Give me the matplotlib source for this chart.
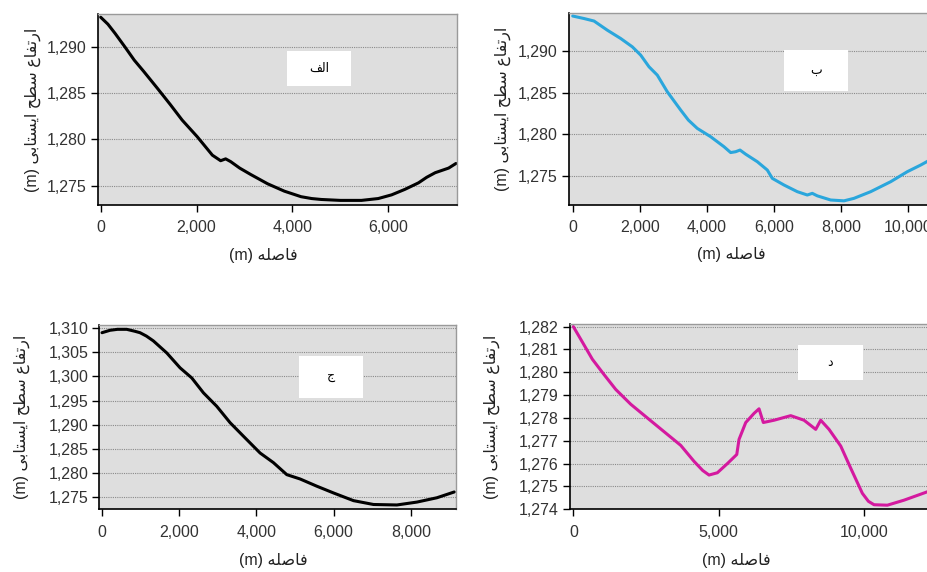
import numpy as np
import matplotlib
matplotlib.use("Agg")
import matplotlib.pyplot as plt
from matplotlib.ticker import FuncFormatter

# ---- data (distance in m, water table elevation in m)
x_alef = [0, 150, 300, 510, 700, 894, 1175, 1450, 1700, 2014, 2330, 2502, 2607,
          2712, 2900, 3132, 3482, 3831, 4180, 4400, 4600, 5000, 5440, 5790, 6069,
          6348, 6629, 6800, 6978, 7258, 7411]
y_alef = [1293.25, 1292.5, 1291.5, 1290.0, 1288.6, 1287.4, 1285.6, 1283.8, 1282.1,
          1280.3, 1278.3, 1277.7, 1277.9, 1277.6, 1276.9, 1276.2, 1275.2, 1274.4,
          1273.8, 1273.6, 1273.5, 1273.4, 1273.4, 1273.6, 1274.0, 1274.6, 1275.3,
          1275.9, 1276.4, 1276.9, 1277.4]

x_be = [0, 337, 635, 1032, 1431, 1778, 2028, 2276, 2523, 2821, 3221, 3450, 3716,
        4115, 4512, 4711, 4860, 4990, 5160, 5506, 5804, 5953, 6302, 6699, 6997,
        7146, 7295, 7694, 8091, 8389, 8887, 9484, 9979, 10379, 10650]
y_be = [1294.2, 1293.9, 1293.6, 1292.5, 1291.5, 1290.5, 1289.5, 1288.1, 1287.1,
        1285.1, 1282.9, 1281.7, 1280.7, 1279.7, 1278.5, 1277.8, 1277.9, 1278.1,
        1277.6, 1276.7, 1275.7, 1274.7, 1273.9, 1273.1, 1272.7, 1272.9, 1272.6,
        1272.1, 1272.0, 1272.3, 1273.1, 1274.3, 1275.5, 1276.3, 1276.9]

x_jim = [0, 207, 400, 640, 850, 985, 1150, 1330, 1677, 2022, 2325, 2628, 2973,
         3318, 3662, 4095, 4440, 4787, 5132, 5565, 5996, 6514, 7033, 7639, 8158,
         8676, 9124]
y_jim = [1309.1, 1309.6, 1309.8, 1309.8, 1309.4, 1309.1, 1308.4, 1307.4, 1304.9,
         1301.8, 1299.7, 1296.6, 1293.8, 1290.4, 1287.6, 1284.1, 1282.1, 1279.6,
         1278.7, 1277.2, 1275.8, 1274.2, 1273.4, 1273.3, 1273.9, 1274.8, 1276.0]

x_dal = [0, 253, 655, 1056, 1458, 1975, 2546, 3120, 3694, 4152, 4450, 4668, 4955,
         5298, 5622, 5700, 5931, 6216, 6388, 6536, 6904, 7478, 7936, 8338, 8510,
         8796, 9198, 9542, 9942, 10150, 10344, 10802, 11376, 12250]
y_dal = [1282.0, 1281.45, 1280.57, 1279.9, 1279.25, 1278.6, 1278.0, 1277.4, 1276.8,
         1276.1, 1275.7, 1275.5, 1275.6, 1276.0, 1276.4, 1277.06, 1277.8, 1278.2,
         1278.4, 1277.8, 1277.9, 1278.1, 1277.9, 1277.5, 1277.9, 1277.5, 1276.77,
         1275.8, 1274.7, 1274.35, 1274.2, 1274.18, 1274.4, 1274.8]

ylabel_txt = "ارتفاع سطح ایستابی (m)"
xlabel_txt = "فاصله (m)"
panel_names = ["الف", "ب", "ج", "د"]

# ---- minimal arabic shaping (matplotlib has no complex text layout)
FORMS = {
    "ا": ("\uFE8D", "\uFE8E", None, None),
    "ب": ("\uFE8F", "\uFE90", "\uFE91", "\uFE92"),
    "ت": ("\uFE95", "\uFE96", "\uFE97", "\uFE98"),
    "ج": ("\uFE9D", "\uFE9E", "\uFE9F", "\uFEA0"),
    "ح": ("\uFEA1", "\uFEA2", "\uFEA3", "\uFEA4"),
    "د": ("\uFEA9", "\uFEAA", None, None),
    "ر": ("\uFEAD", "\uFEAE", None, None),
    "س": ("\uFEB1", "\uFEB2", "\uFEB3", "\uFEB4"),
    "ص": ("\uFEB9", "\uFEBA", "\uFEBB", "\uFEBC"),
    "ط": ("\uFEC1", "\uFEC2", "\uFEC3", "\uFEC4"),
    "ع": ("\uFEC9", "\uFECA", "\uFECB", "\uFECC"),
    "ف": ("\uFED1", "\uFED2", "\uFED3", "\uFED4"),
    "ل": ("\uFEDD", "\uFEDE", "\uFEDF", "\uFEE0"),
    "ه": ("\uFEE9", "\uFEEA", "\uFEEB", "\uFEEC"),
    "ی": ("\uFBFC", "\uFBFD", "\uFBFE", "\uFBFF"),
}


def shape(s):
    out = []
    for i, c in enumerate(s):
        if c not in FORMS:
            out.append(c)
            continue
        prev = s[i - 1] if i > 0 else ""
        nxt = s[i + 1] if i + 1 < len(s) else ""
        jp = prev in FORMS and FORMS[prev][2] is not None
        jn = FORMS[c][2] is not None and nxt in FORMS
        iso, fin, ini, med = FORMS[c]
        if jp and jn:
            out.append(med)
        elif jp:
            out.append(fin)
        elif jn:
            out.append(ini)
        else:
            out.append(iso)
    vis = "".join(reversed(out))
    return vis.translate(str.maketrans("()", ")("))


fam = ["Liberation Sans", "DejaVu Sans"]
plt.rcParams["font.family"] = fam

fig = plt.figure(figsize=(9.28, 5.72), dpi=100)
W, H = 928, 572


def px_axes(l, t, r, b):
    return fig.add_axes([l / W, 1 - b / H, (r - l) / W, (b - t) / H])


fmt = FuncFormatter(lambda v, p: f"{v:,.0f}")

panels = [
    dict(x=x_alef, y=y_alef, c="black", box=(98, 14, 457, 205), xl=(-56, 7433),
         yl=(1272.9, 1293.6), yt=[1275, 1280, 1285, 1290], xt=[0, 2000, 4000, 6000],
         lab=(287, 51, 351, 86), ylx=33, xlp=(263, 256), cut=False),
    dict(x=x_be, y=y_be, c="#2aa6dc", box=(568.7, 12.7, 928, 205), xl=(-120, 10597),
         yl=(1271.5, 1294.6), yt=[1275, 1280, 1285, 1290],
         xt=[0, 2000, 4000, 6000, 8000, 10000],
         lab=(784, 50, 848, 91), ylx=503, xlp=(731, 255), cut=True),
    dict(x=x_jim, y=y_jim, c="black", box=(99.3, 325, 456, 509.3), xl=(-70, 9170),
         yl=(1272.4, 1310.7), yt=list(range(1275, 1311, 5)),
         xt=[0, 2000, 4000, 6000, 8000],
         lab=(298.7, 356, 362.7, 398), ylx=22, xlp=(273, 561), cut=False),
    dict(x=x_dal, y=y_dal, c="#d4199f", box=(570, 324.3, 928, 509.3), xl=(-114, 12200),
         yl=(1274.0, 1282.1), yt=list(range(1274, 1283)), xt=[0, 5000, 10000],
         lab=(798, 345.3, 862.7, 380), ylx=492, xlp=(736, 561), cut=True),
]

for k, p in enumerate(panels):
    ax = px_axes(*p["box"])
    ax.set_facecolor("#dedede")
    ax.plot(p["x"], p["y"], color=p["c"], lw=2.2, solid_joinstyle="round",
            solid_capstyle="round")
    ax.set_xlim(*p["xl"])
    ax.set_ylim(*p["yl"])
    ax.set_yticks(p["yt"])
    ax.set_xticks(p["xt"])
    ax.xaxis.set_major_formatter(fmt)
    ax.yaxis.set_major_formatter(fmt)
    ax.grid(axis="y", color="#8a8a8a", ls=(0, (1, 1)), lw=0.8)
    ax.set_axisbelow(True)
    for s in ("left", "bottom"):
        ax.spines[s].set_color("black")
        ax.spines[s].set_linewidth(1.2)
    for s in ("top", "right"):
        ax.spines[s].set_color("#9a9a9a")
        ax.spines[s].set_linewidth(1.0)
    if p["cut"]:
        ax.spines["right"].set_visible(False)
    ax.tick_params(axis="both", labelsize=11.5, direction="out", colors="black",
                   length=5, width=1, pad=3, labelcolor="#333333")
    ax.tick_params(axis="x", pad=6)

    l, t, r, b = p["lab"]
    fig.patches.append(plt.Rectangle((l / W, 1 - b / H), (r - l) / W, (b - t) / H,
                                     transform=fig.transFigure, facecolor="white",
                                     edgecolor="none", zorder=5))
    fig.text((l + r) / 2 / W, 1 - (t + b) / 2 / H, shape(panel_names[k]),
             ha="center", va="center", fontsize=9, zorder=6, family=fam)

    yc = (p["box"][1] + p["box"][3]) / 2
    fig.text(p["ylx"] / W, 1 - yc / H, shape(ylabel_txt), rotation=90,
             ha="center", va="center", fontsize=11.5, color="#222222", family=fam)
    fig.text(p["xlp"][0] / W, 1 - p["xlp"][1] / H, shape(xlabel_txt),
             ha="center", va="center", fontsize=11.5, color="#222222", family=fam)

fig.savefig("out.png", dpi=100, facecolor="white")
